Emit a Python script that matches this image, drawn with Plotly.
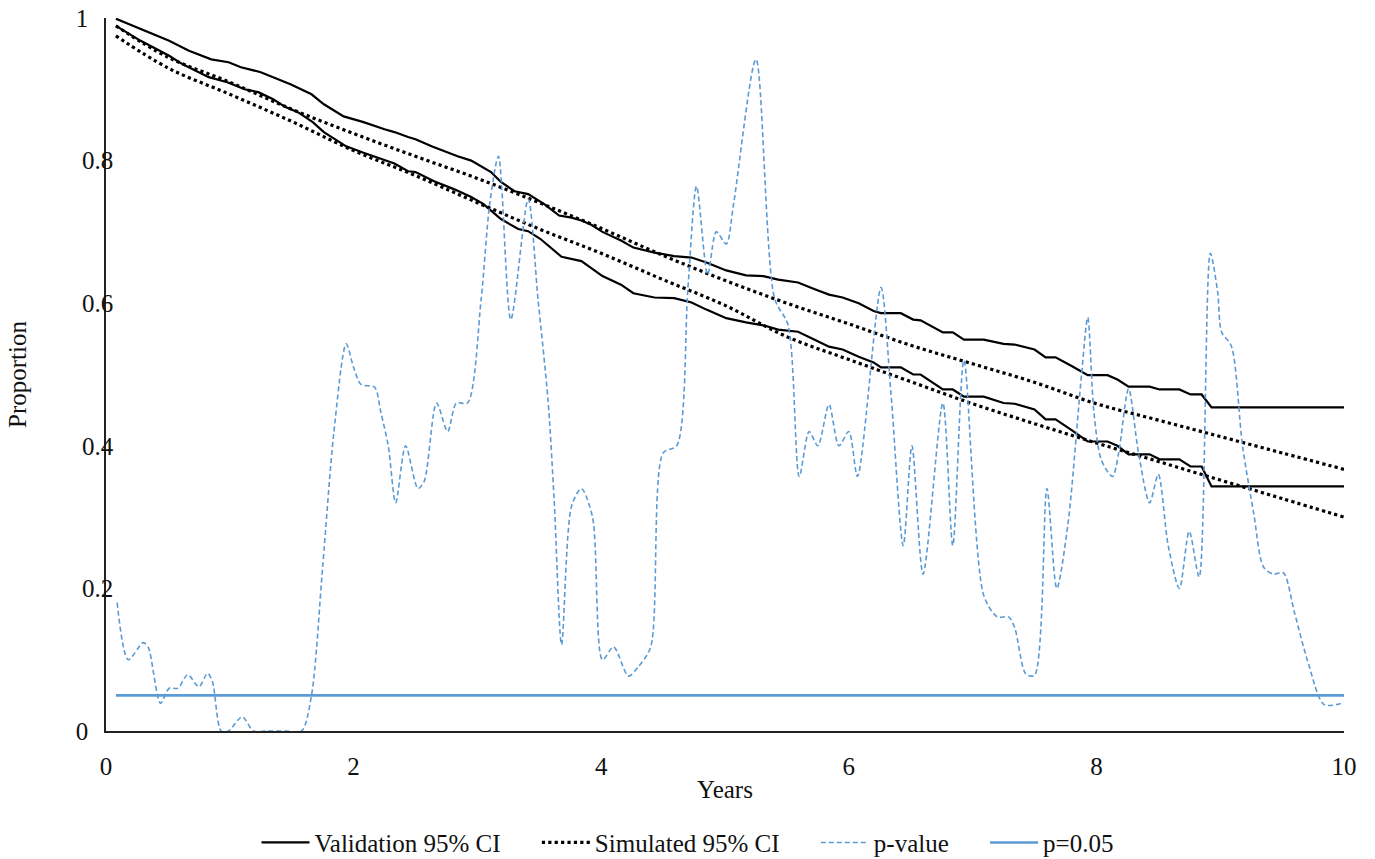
import plotly.graph_objects as go

# Validation 95% CI (Kaplan-Meier style bounds)
val_x = [0.08, 0.28, 0.51, 0.67, 0.85, 0.99, 1.09, 1.25, 1.43, 1.49, 1.66, 1.76, 1.92, 2.08, 2.25, 2.33,
         2.44, 2.50, 2.63, 2.73, 2.84, 2.95, 3.11, 3.19, 3.30, 3.41, 3.54, 3.66, 3.76, 3.84, 3.92, 4.01,
         4.16, 4.26, 4.43, 4.59, 4.73, 4.85, 5.01, 5.17, 5.31, 5.43, 5.59, 5.72, 5.84, 5.95, 6.08, 6.20,
         6.26, 6.42, 6.52, 6.58, 6.76, 6.84, 6.93, 7.09, 7.25, 7.34, 7.50, 7.59, 7.67, 7.80, 7.93, 8.09,
         8.17, 8.26, 8.43, 8.51, 8.67, 8.76, 8.85, 8.93, 10.0]
val_upper = [0.999, 0.985, 0.968, 0.954, 0.942, 0.938, 0.931, 0.924, 0.912, 0.907, 0.893, 0.879, 0.862,
             0.854, 0.844, 0.840, 0.833, 0.830, 0.820, 0.813, 0.806, 0.800, 0.784, 0.770, 0.757, 0.753,
             0.739, 0.723, 0.720, 0.716, 0.710, 0.700, 0.688, 0.678, 0.671, 0.666, 0.664, 0.657, 0.646,
             0.639, 0.638, 0.633, 0.629, 0.620, 0.612, 0.608, 0.600, 0.589, 0.586, 0.586, 0.577, 0.576,
             0.559, 0.559, 0.549, 0.549, 0.543, 0.542, 0.535, 0.524, 0.524, 0.512, 0.499, 0.499, 0.493,
             0.483, 0.483, 0.479, 0.479, 0.472, 0.472, 0.454, 0.454]
val_lower_x = [0.08, 0.28, 0.51, 0.62, 0.83, 0.98, 1.12, 1.23, 1.35, 1.45, 1.55, 1.67, 1.76, 1.94, 2.08,
               2.22, 2.33, 2.44, 2.50, 2.65, 2.81, 2.95, 3.05, 3.19, 3.33, 3.41, 3.51, 3.68, 3.84, 4.01,
               4.16, 4.26, 4.43, 4.59, 4.73, 4.85, 5.01, 5.17, 5.31, 5.43, 5.59, 5.72, 5.84, 5.95, 6.08,
               6.20, 6.26, 6.42, 6.52, 6.58, 6.76, 6.84, 6.93, 7.09, 7.25, 7.34, 7.50, 7.59, 7.67, 7.80,
               7.93, 8.09, 8.17, 8.26, 8.43, 8.51, 8.67, 8.76, 8.85, 8.93, 10.0]
val_lower = [0.989, 0.968, 0.947, 0.935, 0.917, 0.910, 0.900, 0.896, 0.886, 0.875, 0.868, 0.854, 0.840,
             0.820, 0.811, 0.802, 0.796, 0.785, 0.784, 0.771, 0.760, 0.749, 0.739, 0.718, 0.704, 0.701,
             0.690, 0.665, 0.659, 0.638, 0.626, 0.614, 0.608, 0.607, 0.601, 0.591, 0.579, 0.573, 0.569,
             0.563, 0.560, 0.549, 0.539, 0.535, 0.525, 0.517, 0.510, 0.510, 0.500, 0.500, 0.479, 0.479,
             0.469, 0.469, 0.460, 0.459, 0.451, 0.437, 0.437, 0.422, 0.406, 0.406, 0.400, 0.388, 0.388,
             0.381, 0.381, 0.371, 0.371, 0.343, 0.343]

# Simulated 95% CI
sim_x = [0.08, 0.5, 1.0, 1.5, 2.0, 2.5, 3.0, 3.5, 4.0, 4.5, 5.0, 5.5, 6.0, 6.5, 7.0, 7.5, 8.0, 8.5,
         9.0, 9.5, 10.0]
sim_upper = [0.989, 0.945, 0.910, 0.872, 0.838, 0.806, 0.775, 0.741, 0.705, 0.667, 0.632, 0.600, 0.571,
             0.541, 0.515, 0.489, 0.459, 0.436, 0.413, 0.390, 0.367]
sim_lower = [0.975, 0.930, 0.893, 0.855, 0.814, 0.779, 0.741, 0.704, 0.670, 0.633, 0.597, 0.553, 0.521,
             0.490, 0.459, 0.431, 0.404, 0.378, 0.352, 0.326, 0.300]

# p-value
p_x = [0.09, 0.18, 0.30, 0.34, 0.44, 0.51, 0.58, 0.66, 0.75, 0.82, 0.86, 0.93, 0.99, 1.10, 1.19, 1.30,
       1.45, 1.58, 1.66, 1.75, 1.84, 1.94, 2.00, 2.06, 2.17, 2.22, 2.28, 2.34, 2.42, 2.52, 2.57, 2.67,
       2.76, 2.83, 2.92, 3.03, 3.10, 3.17, 3.27, 3.41, 3.49, 3.57, 3.62, 3.68, 3.76, 3.84, 3.93, 4.01,
       4.10, 4.22, 4.30, 4.40, 4.50, 4.61, 4.70, 4.77, 4.86, 4.93, 5.01, 5.07, 5.25, 5.40, 5.51, 5.60,
       5.68, 5.75, 5.84, 5.92, 6.00, 6.07, 6.26, 6.34, 6.44, 6.51, 6.60, 6.76, 6.84, 6.93, 7.09, 7.20,
       7.29, 7.34, 7.43, 7.50, 7.60, 7.68, 7.77, 7.88, 7.93, 7.98, 8.04, 8.13, 8.18, 8.26, 8.34, 8.43,
       8.50, 8.58, 8.67, 8.75, 8.83, 8.92, 8.98, 9.01, 9.09, 9.18, 9.27, 9.35, 9.43, 9.51, 9.60, 9.71,
       9.84, 10.0]
p_val = [0.180, 0.100, 0.124, 0.118, 0.039, 0.060, 0.060, 0.079, 0.062, 0.081, 0.069, 0.000, 0.000,
         0.020, 0.000, 0.000, 0.000, 0.000, 0.050, 0.230, 0.418, 0.543, 0.510, 0.486, 0.482, 0.447,
         0.400, 0.320, 0.400, 0.340, 0.350, 0.460, 0.420, 0.460, 0.460, 0.605, 0.740, 0.806, 0.577,
         0.746, 0.605, 0.465, 0.324, 0.121, 0.315, 0.340, 0.300, 0.100, 0.118, 0.077, 0.090, 0.118,
         0.390, 0.400, 0.620, 0.764, 0.640, 0.700, 0.683, 0.740, 0.942, 0.607, 0.569, 0.357, 0.420,
         0.400, 0.458, 0.400, 0.420, 0.357, 0.622, 0.475, 0.260, 0.400, 0.220, 0.460, 0.260, 0.520,
         0.190, 0.160, 0.160, 0.145, 0.080, 0.078, 0.340, 0.200, 0.290, 0.500, 0.580, 0.447, 0.380,
         0.357, 0.390, 0.480, 0.390, 0.320, 0.360, 0.260, 0.200, 0.280, 0.216, 0.670, 0.615, 0.560,
         0.540, 0.400, 0.306, 0.230, 0.220, 0.222, 0.166, 0.096, 0.037, 0.040]

thr_x = [0.08, 10.0]
thr_y = [0.05, 0.05]

x_ticks = [0, 2, 4, 6, 8, 10]
y_ticks = [0, 0.2, 0.4, 0.6, 0.8, 1]
y_tick_text = ["0", "0.2", "0.4", "0.6", "0.8", "1"]

BLUE = "#5B9BD5"
FONT = "Liberation Serif"
FS = 25
PAD = "\u00a0" * 5  # spacing between legend entries
NB = "\u00a0" * 4   # keeps the one-character y labels roughly under the wider ones

fig = go.Figure()
fig.add_trace(go.Scatter(x=val_x, y=val_upper, mode="lines", name="Validation 95% CI" + PAD,
                         line=dict(color="black", width=2.2), legendgroup="val"))
fig.add_trace(go.Scatter(x=val_lower_x, y=val_lower, mode="lines", name="Validation 95% CI",
                         line=dict(color="black", width=2.2), legendgroup="val", showlegend=False))
fig.add_trace(go.Scatter(x=sim_x, y=sim_upper, mode="lines", name="Simulated 95% CI" + PAD,
                         line=dict(color="black", width=3.2, dash="dot", shape="spline"),
                         legendgroup="sim"))
fig.add_trace(go.Scatter(x=sim_x, y=sim_lower, mode="lines", name="Simulated 95% CI",
                         line=dict(color="black", width=3.2, dash="dot", shape="spline"),
                         legendgroup="sim", showlegend=False))
fig.add_trace(go.Scatter(x=p_x, y=p_val, mode="lines", name="p-value" + PAD,
                         line=dict(color=BLUE, width=1.6, dash="5px,3px", shape="spline",
                                   smoothing=0.8)))
fig.add_trace(go.Scatter(x=thr_x, y=thr_y, mode="lines", name="p=0.05",
                         line=dict(color=BLUE, width=2.6)))

fig.update_layout(
    width=1375, height=859,
    paper_bgcolor="white", plot_bgcolor="white",
    margin=dict(l=106, r=31, t=18, b=128),
    font=dict(family=FONT, size=FS, color="#111"),
    legend=dict(orientation="h", xref="container", yref="container", x=0.5, y=0.019,
                xanchor="center", yanchor="middle", font=dict(family=FONT, size=FS),
                itemwidth=48, tracegroupgap=0),
    showlegend=True,
)
fig.update_xaxes(range=[0, 10], tickvals=x_ticks, ticktext=[str(v) for v in x_ticks],
                 showgrid=False, zeroline=False, showline=True, linecolor="#222", linewidth=1.5,
                 ticks="", ticklen=0, automargin=False, ticklabelstandoff=12,
                 title=dict(text="Years", font=dict(family=FONT, size=FS), standoff=2),
                 tickfont=dict(family=FONT, size=FS))
fig.update_yaxes(range=[0, 1], tickvals=y_ticks,
                 ticktext=[t + NB if len(t) == 1 else t for t in y_tick_text],
                 showgrid=False, zeroline=False, showline=True, linecolor="#222", linewidth=1.5,
                 ticks="", ticklen=0, automargin=False, ticklabelstandoff=-14,
                 title=dict(text="Proportion", font=dict(family=FONT, size=FS), standoff=42),
                 tickfont=dict(family=FONT, size=FS))

fig.write_html("out.html", config={"displayModeBar": False},
               post_script="document.body.style.margin='0px';")
